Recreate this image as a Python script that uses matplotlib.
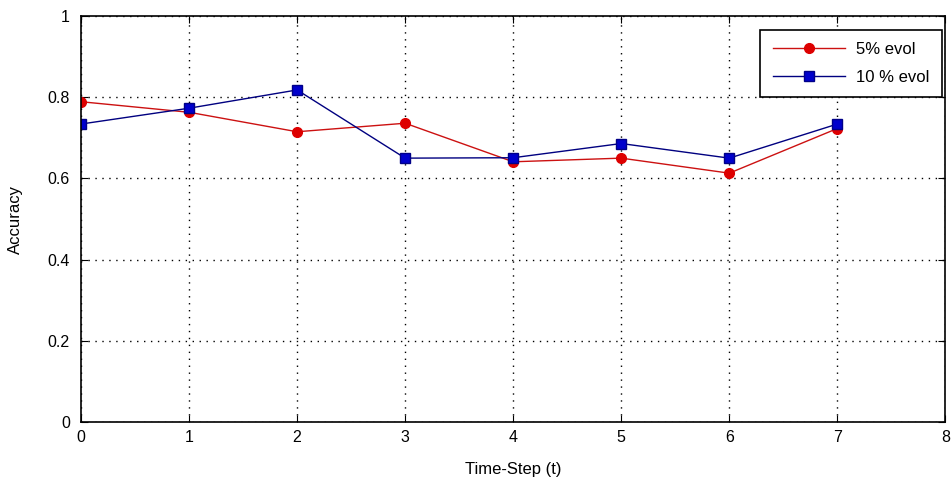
import matplotlib
matplotlib.use('Agg')
import matplotlib.pyplot as plt

steps = [0, 1, 2, 3, 4, 5, 6, 7]
acc_5 = [0.789, 0.763, 0.715, 0.736, 0.641, 0.650, 0.613, 0.723]
acc_10 = [0.734, 0.773, 0.818, 0.650, 0.651, 0.686, 0.650, 0.734]

plt.rcParams['font.family'] = ['Liberation Sans', 'DejaVu Sans']

fig = plt.figure(figsize=(9.53, 4.87), dpi=100)
ax = fig.add_axes([0.085, 0.1335, 0.907, 0.8335])

ax.plot(steps, acc_5, color='#cc1111', marker='o', markersize=7, linewidth=1.0,
        markerfacecolor='#dd0000', markeredgecolor='#dd0000', label='5% evol')
ax.plot(steps, acc_10, color='#000080', marker='s', markersize=7.5, linewidth=1.0,
        markerfacecolor='#0000cc', markeredgecolor='#000088', label='10 % evol')

ax.set_xlim(0, 8)
ax.set_ylim(0, 1)
ax.set_xticks(range(0, 9))
ax.set_yticks([0, 0.2, 0.4, 0.6, 0.8, 1])
ax.set_yticklabels(['0', '0.2', '0.4', '0.6', '0.8', '1'])
ax.tick_params(direction='in', labelsize=11.5, length=5, top=True, right=True)
ax.tick_params(axis='x', pad=6)
ax.tick_params(axis='y', pad=8)
ax.grid(True, linestyle=(0, (1, 4)), color='black', linewidth=1.0)
for s in ax.spines.values():
    s.set_linewidth(1.2)

ax.set_xlabel('Time-Step (t)', fontsize=12, labelpad=12)
ax.set_ylabel('Accuracy', fontsize=12, labelpad=18)

leg = ax.legend(loc='upper right', fontsize=12, fancybox=False, framealpha=1,
                edgecolor='black', handlelength=4.3, borderpad=0.75,
                labelspacing=0.75, handletextpad=0.7, borderaxespad=0.2,
                bbox_to_anchor=(1.0, 0.975))
leg.get_frame().set_linewidth(1.2)

fig.savefig('out.png', dpi=100)
